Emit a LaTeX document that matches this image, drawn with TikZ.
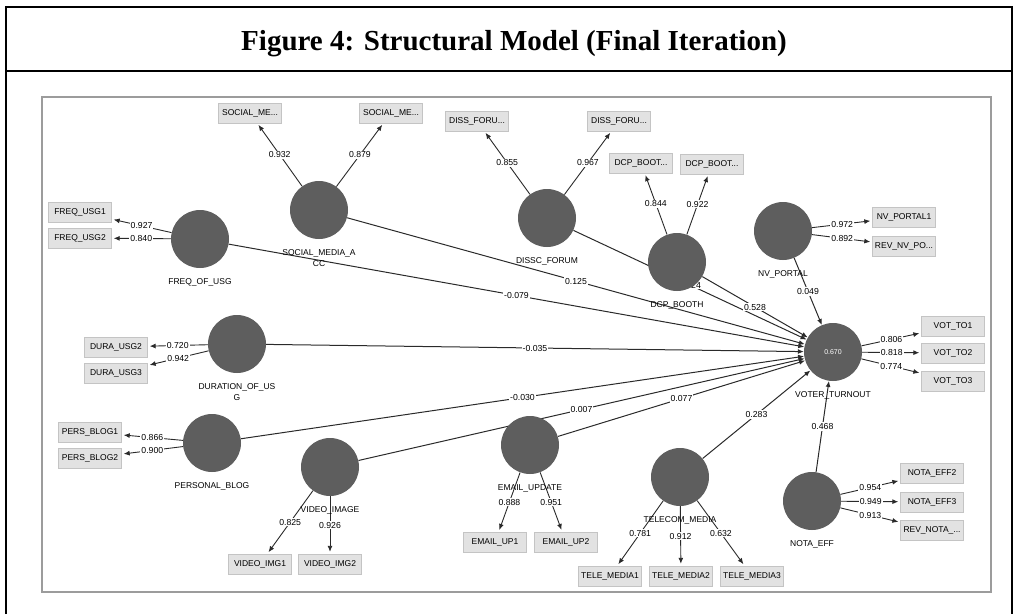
\documentclass[tikz,border=0pt]{standalone}
\usepackage{fontspec}
\setmainfont{Liberation Serif}
\setsansfont{Liberation Sans}
\usepackage{tikz}
\usetikzlibrary{arrows.meta, positioning, backgrounds}
\definecolor{LvGray}{HTML}{5E5E5E}
\definecolor{BoxFill}{HTML}{E2E2E2}
\definecolor{BoxLine}{HTML}{C4C4C4}
\definecolor{FrameGray}{HTML}{9C9C9C}
\definecolor{PathGray}{HTML}{2A2A2A}
\tikzset{
  lvnode/.style={circle, fill=LvGray, draw=none, minimum size=58pt, inner sep=0pt},
  mvbox/.style={draw=BoxLine, fill=BoxFill, minimum width=63pt, minimum height=20pt, inner sep=0.5pt, font=\sffamily\fontsize{8.5}{9}\selectfont},
  lvtext/.style={align=center, inner sep=1pt, font=\sffamily\fontsize{8.5}{11}\selectfont},
  coef/.style={fill=white, inner sep=1pt, font=\sffamily\fontsize{8.7}{9}\selectfont},
  loadarrow/.style={-{Latex[length=6pt,width=5pt]}, draw=PathGray, line width=0.9pt, shorten >=2pt},
  patharrow/.style={-{Latex[length=6pt,width=5pt]}, draw=PathGray, line width=1pt}
}

\begin{document}
\begin{tikzpicture}[x=1pt, y=-1pt, node distance=9pt]
\useasboundingbox (0,0) rectangle (1015,614);
% frame and title
\draw[line width=1.2pt] (6,614) -- (6,7) -- (1012,7) -- (1012,614);
\draw[line width=1.2pt] (6,71) -- (1012,71);
\node[anchor=base, inner sep=0pt, font=\fontsize{29}{32}\selectfont\bfseries] (title) at (514,50) {Figure 4: Structural Model (Final Iteration)};
\draw[FrameGray, line width=1.5pt] (42,97) rectangle (991,592);

% latent variables
\node[lvnode] (social) at (319,210) {};
\node[lvnode] (freq) at (200,239) {};
\node[lvnode] (dissc) at (547,218) {};
\node[lvnode] (dcp) at (677,262) {};
\node[lvnode] (nvp) at (783,231) {};
\node[lvnode, text=white, font=\sffamily\fontsize{7}{8}\selectfont] (vt) at (833,352) {0.670};
\node[lvnode] (dura) at (237,344) {};
\node[lvnode] (pers) at (212,443) {};
\node[lvnode] (video) at (330,467) {};
\node[lvnode] (email) at (530,445) {};
\node[lvnode] (tele) at (680,477) {};
\node[lvnode] (nota) at (812,501) {};

\node[lvtext, below=of social] (socialtxt) {SOCIAL\_MEDIA\_A\\CC};
\node[lvtext, below=of freq] (freqtxt) {FREQ\_OF\_USG};
\node[lvtext, below=of dissc] (dissctxt) {DISSC\_FORUM};
\node[lvtext, below=of dcp] (dcptxt) {DCP\_BOOTH};
\node[lvtext, below=of nvp] (nvptxt) {NV\_PORTAL};
\node[lvtext, below=of vt] (vttxt) {VOTER\_TURNOUT};
\node[lvtext, below=of dura] (duratxt) {DURATION\_OF\_US\\G};
\node[lvtext, below=of pers] (perstxt) {PERSONAL\_BLOG};
\node[lvtext, below=of video] (videotxt) {VIDEO\_IMAGE};
\node[lvtext, below=of email] (emailtxt) {EMAIL\_UPDATE};
\node[lvtext, below=of tele] (teletxt) {TELECOM\_MEDIA};
\node[lvtext, below=of nota] (notatxt) {NOTA\_EFF};

% indicators
\node[mvbox] (sociala) at (250,113) {SOCIAL\_ME...};
\node[mvbox] (socialb) at (391,113) {SOCIAL\_ME...};
\node[mvbox] (dissca) at (477,121) {DISS\_FORU...};
\node[mvbox] (disscb) at (619,121) {DISS\_FORU...};
\node[mvbox] (dcpa) at (641,163) {DCP\_BOOT...};
\node[mvbox] (dcpb) at (712,164) {DCP\_BOOT...};
\node[mvbox] (nvpa) at (904,217) {NV\_PORTAL1};
\node[mvbox] (nvpb) at (904,246) {REV\_NV\_PO...};
\node[mvbox] (freqa) at (80,212) {FREQ\_USG1};
\node[mvbox] (freqb) at (80,238) {FREQ\_USG2};
\node[mvbox] (duraa) at (116,347) {DURA\_USG2};
\node[mvbox] (durab) at (116,373) {DURA\_USG3};
\node[mvbox] (persa) at (90,432) {PERS\_BLOG1};
\node[mvbox] (persb) at (90,458) {PERS\_BLOG2};
\node[mvbox] (videoa) at (260,564) {VIDEO\_IMG1};
\node[mvbox] (videob) at (330,564) {VIDEO\_IMG2};
\node[mvbox] (emaila) at (495,542) {EMAIL\_UP1};
\node[mvbox] (emailb) at (566,542) {EMAIL\_UP2};
\node[mvbox] (telea) at (610,576) {TELE\_MEDIA1};
\node[mvbox] (teleb) at (681,576) {TELE\_MEDIA2};
\node[mvbox] (telec) at (752,576) {TELE\_MEDIA3};
\node[mvbox] (vota) at (953,326) {VOT\_TO1};
\node[mvbox] (votb) at (953,353) {VOT\_TO2};
\node[mvbox] (votc) at (953,381) {VOT\_TO3};
\node[mvbox] (notaa) at (932,473) {NOTA\_EFF2};
\node[mvbox] (notab) at (932,502) {NOTA\_EFF3};
\node[mvbox] (notac) at (932,530) {REV\_NOTA\_...};

\begin{scope}[on background layer]
% outer loadings
\draw[loadarrow] (social) -- node[coef] (lsociala) {0.932} (sociala);
\draw[loadarrow] (social) -- node[coef] (lsocialb) {0.879} (socialb);
\draw[loadarrow] (dissc) -- node[coef] (ldissca) {0.855} (dissca);
\draw[loadarrow] (dissc) -- node[coef] (ldisscb) {0.967} (disscb);
\draw[loadarrow] (dcp) -- node[coef] (ldcpa) {0.844} (dcpa);
\draw[loadarrow] (dcp) -- node[coef] (ldcpb) {0.922} (dcpb);
\draw[loadarrow] (nvp) -- node[coef] (lnvpa) {0.972} (nvpa);
\draw[loadarrow] (nvp) -- node[coef] (lnvpb) {0.892} (nvpb);
\draw[loadarrow] (freq) -- node[coef] (lfreqa) {0.927} (freqa);
\draw[loadarrow] (freq) -- node[coef] (lfreqb) {0.840} (freqb);
\draw[loadarrow] (dura) -- node[coef] (lduraa) {0.720} (duraa);
\draw[loadarrow] (dura) -- node[coef] (ldurab) {0.942} (durab);
\draw[loadarrow] (pers) -- node[coef] (lpersa) {0.866} (persa);
\draw[loadarrow] (pers) -- node[coef] (lpersb) {0.900} (persb);
\draw[loadarrow] (video) -- node[coef] (lvideoa) {0.825} (videoa);
\draw[loadarrow] (video) -- node[coef] (lvideob) {0.926} (videob);
\draw[loadarrow] (email) -- node[coef] (lemaila) {0.888} (emaila);
\draw[loadarrow] (email) -- node[coef] (lemailb) {0.951} (emailb);
\draw[loadarrow] (tele) -- node[coef] (ltelea) {0.781} (telea);
\draw[loadarrow] (tele) -- node[coef] (lteleb) {0.912} (teleb);
\draw[loadarrow] (tele) -- node[coef] (ltelec) {0.632} (telec);
\draw[loadarrow] (vt) -- node[coef] (lvota) {0.806} (vota);
\draw[loadarrow] (vt) -- node[coef] (lvotb) {0.818} (votb);
\draw[loadarrow] (vt) -- node[coef] (lvotc) {0.774} (votc);
\draw[loadarrow] (nota) -- node[coef] (lnotaa) {0.954} (notaa);
\draw[loadarrow] (nota) -- node[coef] (lnotab) {0.949} (notab);
\draw[loadarrow] (nota) -- node[coef] (lnotac) {0.913} (notac);
% path coefficients
\draw[patharrow] (freq) -- node[coef] (pfreq) {-0.079} (vt);
\draw[patharrow] (social) -- node[coef] (psocial) {0.125} (vt);
\draw[patharrow] (dissc) -- node[coef] (pdissc) {0.024} (vt);
\draw[patharrow] (dcp) -- node[coef] (pdcp) {0.528} (vt);
\draw[patharrow] (nvp) -- node[coef] (pnvp) {0.049} (vt);
\draw[patharrow] (dura) -- node[coef] (pdura) {-0.035} (vt);
\draw[patharrow] (pers) -- node[coef] (ppers) {-0.030} (vt);
\draw[patharrow] (video) -- node[coef] (pvideo) {0.007} (vt);
\draw[patharrow] (email) -- node[coef] (pemail) {0.077} (vt);
\draw[patharrow] (tele) -- node[coef] (ptele) {0.283} (vt);
\draw[patharrow] (nota) -- node[coef] (pnota) {0.468} (vt);
\end{scope}
\end{tikzpicture}
\end{document}
